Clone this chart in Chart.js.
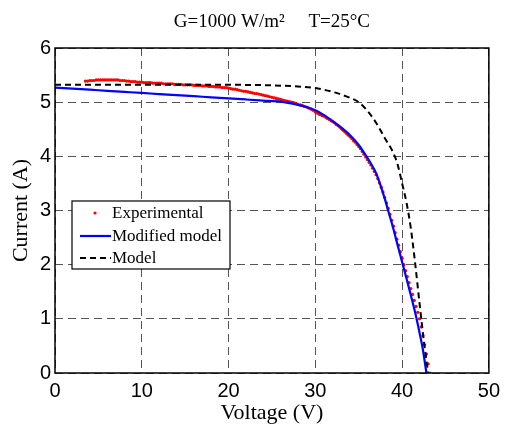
<!DOCTYPE html>
<html>
<head>
<meta charset="utf-8">
<script src="https://cdn.jsdelivr.net/npm/chart.js@4"></script>
<style>
  html, body { margin: 0; padding: 0; background: #fff; }
  #wrap { width: 506px; height: 428px; }
</style>
</head>
<body>
<div id="wrap"><canvas id="myChart" width="506" height="428"></canvas></div>
<script>
const expV = [3.5, 3.75, 4, 4.25, 4.5, 4.75, 5, 5.25, 5.5, 5.75, 6, 6.25, 6.5, 6.75, 7, 7.25, 7.5, 7.75, 8, 8.25, 8.5, 8.75,
  9, 9.25, 9.5, 9.75, 10, 10.25, 10.5, 10.75, 11, 11.25, 11.5, 11.75, 12, 12.25, 12.5, 12.75, 13, 13.25, 13.5, 13.75,
  14, 14.25, 14.5, 14.75, 15, 15.25, 15.5, 15.75, 16, 16.25, 16.5, 16.75, 17, 17.25, 17.5, 17.75, 18, 18.25, 18.5, 18.75,
  19, 19.25, 19.5, 19.75, 20, 20.25, 20.5, 20.75, 21, 21.25, 21.5, 21.75, 22, 22.25, 22.5, 22.75, 23, 23.25, 23.5, 23.75,
  24, 24.25, 24.5, 24.75, 25, 25.25, 25.5, 25.75, 26, 26.25, 26.5, 26.75, 27, 27.25, 27.5, 27.75, 28, 28.25, 28.5, 28.75,
  29, 29.25, 29.5, 29.75, 30,
  30.2, 30.4, 30.6, 30.8, 31.0, 31.2, 31.4, 31.6, 31.8, 32.0, 32.2, 32.4, 32.6, 32.8, 33.0, 33.2, 33.4, 33.6, 33.8, 34.0,
  34.2, 34.4, 34.6, 34.8, 35.0, 35.2, 35.4, 35.6, 35.8, 36.0, 36.2, 36.4, 36.6, 36.8, 37.0, 37.2, 37.4, 37.6, 37.8, 38.0,
  38.2, 38.4, 38.6, 38.8, 39.0, 39.2, 39.4, 39.6, 39.8, 40.0, 40.2, 40.4, 40.6, 40.8, 41.0, 41.2, 41.4, 41.6, 41.8, 42.0,
  42.2, 42.4, 42.6, 42.8, 43.0, 43.2]
const expI = [5.39, 5.39, 5.40, 5.40, 5.40, 5.41, 5.41, 5.41, 5.41, 5.41, 5.41, 5.41, 5.41, 5.41, 5.41, 5.41, 5.40, 5.40,
  5.40, 5.39, 5.39, 5.38, 5.38, 5.38, 5.37, 5.37, 5.37, 5.36, 5.36, 5.36, 5.36, 5.35, 5.35, 5.35, 5.35, 5.35, 5.34, 5.34,
  5.34, 5.34, 5.34, 5.33, 5.33, 5.33, 5.33, 5.32, 5.32, 5.32, 5.32, 5.32, 5.31, 5.31, 5.31, 5.31, 5.30, 5.30, 5.30, 5.29,
  5.29, 5.29, 5.28, 5.28, 5.28, 5.27, 5.27, 5.27, 5.26, 5.25, 5.24, 5.24, 5.23, 5.22, 5.21, 5.20, 5.20, 5.19, 5.18, 5.17,
  5.16, 5.16, 5.15, 5.14, 5.13, 5.12, 5.11, 5.10, 5.09, 5.08, 5.07, 5.06, 5.05, 5.04, 5.03, 5.02, 5.01, 5.00, 4.99, 4.98,
  4.96, 4.95, 4.94, 4.92, 4.91, 4.89, 4.87, 4.85, 4.82,
  4.80, 4.78, 4.77, 4.75, 4.74, 4.72, 4.70, 4.68, 4.66, 4.64, 4.62, 4.59, 4.57, 4.54, 4.51, 4.48, 4.45, 4.42, 4.39, 4.36,
  4.33, 4.29, 4.26, 4.22, 4.18, 4.14, 4.09, 4.04, 3.99, 3.94, 3.89, 3.84, 3.78, 3.72, 3.66, 3.59, 3.51, 3.43, 3.34, 3.24,
  3.14, 3.04, 2.93, 2.82, 2.71, 2.59, 2.47, 2.36, 2.24, 2.12, 2.00, 1.89, 1.78, 1.67, 1.56, 1.45, 1.34, 1.23, 1.12, 1.00,
  0.85, 0.69, 0.52, 0.35, 0.17, 0.0]

// modified model
const modV = [0, 2, 4, 6, 8, 10, 12, 14, 16, 18, 20, 22, 24, 26, 28, 29, 30, 31, 32, 33, 34, 35, 36, 36.5, 37, 37.5, 38,
  38.5, 39, 39.5, 40, 40.5, 41, 41.5, 42, 42.4, 42.8]
const modI = [5.27, 5.25, 5.23, 5.21, 5.19, 5.17, 5.15, 5.13, 5.11, 5.09, 5.07, 5.05, 5.03, 5.01, 4.95, 4.91, 4.85, 4.76,
  4.65, 4.53, 4.39, 4.21, 3.97, 3.84, 3.69, 3.47, 3.22, 2.94, 2.66, 2.35, 2.05, 1.75, 1.44, 1.12, 0.75, 0.43, 0.0]

// original model
const simV = [0, 5, 10, 15, 20, 25, 28, 30, 31, 32, 33, 34, 35, 36, 37, 38, 39, 39.5, 40, 40.5, 41, 41.5, 42, 42.5, 43.0]
const simI = [5.32, 5.32, 5.32, 5.32, 5.32, 5.31, 5.29, 5.26, 5.23, 5.19, 5.14, 5.08, 5.00, 4.84, 4.62, 4.34, 4.06, 3.84,
  3.50, 3.15, 2.68, 2.03, 1.30, 0.60, 0.0]

const toPts = (xs, ys) => xs.map((x, i) => ({ x: x, y: ys[i] }))

const serif = 'Liberation Serif'
const sans = 'Liberation Sans'

// legend sits inside the plot, like the matlab figure
const boxLegend = {
  id: 'boxLegend',
  afterDatasetsDraw(chart) {
    const ctx = chart.ctx
    const a = chart.chartArea
    ctx.save()
    // frame round the plot
    ctx.strokeStyle = '#000'
    ctx.lineWidth = 1.5
    ctx.setLineDash([])
    ctx.strokeRect(a.left, a.top, a.right - a.left, a.bottom - a.top)

    const x0 = 72, y0 = 201, w = 158, h = 68
    ctx.fillStyle = '#fff'
    ctx.fillRect(x0, y0, w, h)
    ctx.lineWidth = 1.2
    ctx.strokeRect(x0, y0, w, h)
    ctx.font = '17px "' + serif + '"'
    ctx.textBaseline = 'middle'
    const rows = [213, 236, 258]
    chart.data.datasets.forEach((ds, i) => {
      const y = rows[i]
      if (ds.showLine === false) {
        ctx.fillStyle = ds.pointBackgroundColor
        ctx.beginPath()
        ctx.arc(95, y, 1.6, 0, Math.PI * 2)
        ctx.fill()
      } else {
        ctx.strokeStyle = ds.borderColor
        ctx.lineWidth = ds.borderWidth
        ctx.setLineDash(ds.borderDash || [])
        ctx.beginPath()
        ctx.moveTo(80, y)
        ctx.lineTo(111, y)
        ctx.stroke()
        ctx.setLineDash([])
      }
      ctx.fillStyle = '#000'
      ctx.fillText(ds.label, 112, y + 1)
    })
    ctx.restore()
  }
}

const myChart = document.getElementById('myChart').getContext('2d')
new Chart(myChart, {
  type: 'scatter',
  data: {
    datasets: [{
      label: 'Experimental',
      data: toPts(expV, expI),
      showLine: false,
      pointRadius: 1.6,
      pointBackgroundColor: '#ff0000',
      pointBorderWidth: 0,
      order: 3
    }, {
      label: 'Modified model',
      data: toPts(modV, modI),
      showLine: true,
      borderColor: '#0000ff',
      borderWidth: 2.2,
      pointRadius: 0,
      cubicInterpolationMode: 'monotone',
      order: 2
    }, {
      label: 'Model',
      data: toPts(simV, simI),
      showLine: true,
      borderColor: '#000000',
      borderWidth: 2,
      borderDash: [6, 4],
      pointRadius: 0,
      cubicInterpolationMode: 'monotone',
      order: 1
    }]
  },
  options: {
    responsive: false,
    animation: false,
    layout: { padding: { left: 0, right: 15, top: 0, bottom: 0 } },
    plugins: {
      legend: { display: false },
      tooltip: { enabled: false },
      title: {
        display: true,
        fullSize: false,
        text: 'G=1000 W/m²     T=25°C',
        color: '#000',
        font: { family: serif, size: 19, weight: 'normal' },
        padding: { top: 11, bottom: 14.2 }
      }
    },
    scales: {
      x: {
        min: 0,
        max: 50,
        afterFit: s => { s.height = 55 },
        ticks: { stepSize: 10, color: '#000', padding: 6, font: { family: sans, size: 20 } },
        grid: { color: '#555', lineWidth: 1, drawTicks: false },
        border: { display: false, dash: [8, 5] },
        title: {
          display: true,
          text: 'Voltage (V)',
          color: '#000',
          font: { family: serif, size: 22 },
          padding: { top: 0, bottom: 2 }
        }
      },
      y: {
        min: 0,
        max: 6,
        afterFit: s => { s.width = 55 },
        ticks: { stepSize: 1, color: '#000', padding: 4, font: { family: sans, size: 20 } },
        grid: { color: '#555', lineWidth: 1, drawTicks: false },
        border: { display: false, dash: [8, 5] },
        title: {
          display: true,
          text: 'Current (A)',
          color: '#000',
          font: { family: serif, size: 22 },
          padding: { top: 8, bottom: 0 }
        }
      }
    }
  },
  plugins: [boxLegend]
})
</script>
</body>
</html>
